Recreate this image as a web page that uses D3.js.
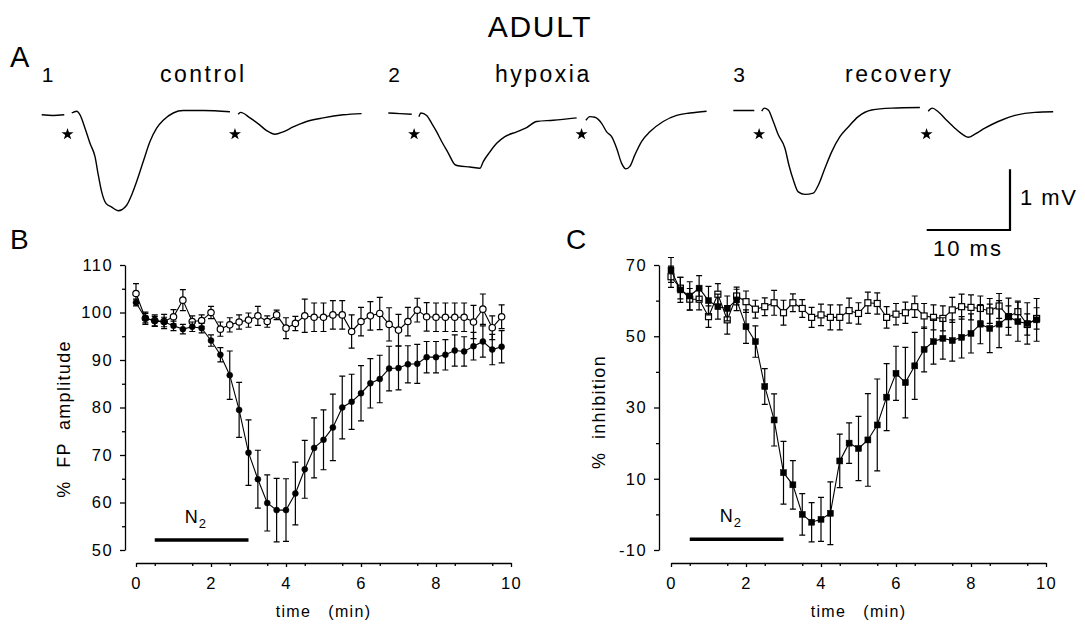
<!DOCTYPE html>
<html>
<head>
<meta charset="utf-8">
<script src="https://cdn.jsdelivr.net/npm/d3@7"></script>
<style>
body { margin: 0; background: #fff; }
svg { display: block; font-family: "Liberation Sans", Arial, sans-serif; }
</style>
</head>
<body>
<div id="chart"></div>
<script>
// sample times (min), one point every 15 s
const times = [0, 0.25, 0.5, 0.75, 1, 1.25, 1.5, 1.75, 2, 2.25, 2.5, 2.75, 3, 3.25, 3.5, 3.75,
  4, 4.25, 4.5, 4.75, 5, 5.25, 5.5, 5.75, 6, 6.25, 6.5, 6.75, 7, 7.25, 7.5, 7.75,
  8, 8.25, 8.5, 8.75, 9, 9.25, 9.5, 9.75];

// B: % FP amplitude
const ampHypoxia = [102.1, 98.8, 98.2, 98.0, 97.2, 96.5, 97.0, 96.7, 94.1, 91.1, 86.8, 79.5, 70.5, 64.9, 59.9, 58.4,
  58.4, 61.9, 67.0, 71.5, 73.2, 75.8, 80.0, 81.2, 83.0, 85.1, 86.0, 88.2, 88.3, 89.1, 89.2, 90.6,
  90.6, 91.1, 92.0, 91.8, 92.9, 93.9, 92.2, 92.8];
const ampHypoxiaErr = [0.7, 1.0, 1.0, 1.0, 1.0, 1.0, 1.0, 1.0, 1.2, 1.5, 5.1, 5.8, 6.9, 6.1, 5.9, 6.7,
  6.6, 6.6, 6.1, 6.3, 6.3, 7.0, 6.6, 5.8, 5.8, 5.2, 5.0, 4.7, 4.6, 3.9, 4.1, 3.3,
  3.3, 3.2, 3.3, 3.1, 2.9, 3.3, 3.2, 3.4];
const ampControl = [104.0, 98.8, 98.3, 98.1, 99.1, 102.6, 98.1, 98.3, 100.0, 96.5, 97.4, 98.0, 98.4, 99.3, 98.1, 99.5,
  96.7, 97.7, 99.3, 99.0, 99.0, 99.5, 99.5, 96.0, 98.1, 99.3, 99.8, 97.5, 96.3, 98.1, 100.5, 99.1,
  99.0, 99.0, 99.0, 99.0, 98.0, 100.7, 96.8, 99.1];
const ampControlErr = [2.1, 1.3, 1.2, 1.5, 1.5, 2.2, 1.2, 1.2, 1.3, 1.5, 1.5, 1.5, 1.5, 2.0, 1.2, 1.0,
  2.2, 1.5, 3.5, 3.0, 3.0, 3.0, 3.0, 3.5, 3.0, 3.0, 3.4, 3.5, 3.3, 3.0, 2.5, 3.0,
  3.0, 3.0, 3.0, 3.0, 3.5, 3.2, 2.5, 2.5];

// C: % inhibition
const inhHypoxia = [68.6, 63.0, 61.3, 63.5, 60.0, 58.3, 57.8, 60.2, 52.7, 48.5, 35.9, 26.5, 11.7, 8.3, 0.0, -2.2,
  -1.4, 0.3, 15.0, 20.0, 18.5, 20.9, 25.1, 32.9, 39.6, 37.0, 41.7, 46.3, 48.5, 49.4, 48.8, 49.7,
  50.8, 53.4, 52.2, 53.4, 55.5, 54.1, 53.6, 54.6];
const inhHypoxiaErr = [3.5, 3.5, 4.0, 3.5, 4.0, 3.5, 3.5, 3.0, 4.7, 4.4, 5.0, 7.3, 8.8, 6.8, 5.8, 5.5,
  6.2, 8.8, 7.5, 5.7, 9.0, 13.0, 12.9, 9.4, 7.6, 9.9, 9.4, 6.3, 6.3, 5.8, 5.8, 5.8,
  5.5, 5.5, 6.8, 6.6, 5.2, 5.5, 5.8, 6.0];
const inhControl = [66.7, 63.5, 60.4, 60.4, 55.5, 61.8, 54.6, 61.3, 59.7, 57.6, 58.3, 59.4, 56.6, 59.4, 57.8, 55.3,
  56.0, 55.3, 55.3, 57.2, 56.4, 59.4, 59.2, 55.3, 56.2, 56.6, 58.3, 55.7, 55.3, 55.0, 57.4, 58.3,
  58.1, 57.8, 57.1, 58.5, 55.5, 56.9, 53.3, 55.0];
const inhControlErr = [3.0, 3.0, 3.0, 3.0, 3.0, 3.0, 4.0, 2.5, 3.0, 2.5, 2.5, 3.5, 3.5, 2.5, 2.5, 2.8,
  3.0, 3.5, 3.5, 3.5, 3.0, 3.0, 3.0, 3.0, 3.0, 3.0, 3.0, 3.5, 3.5, 3.5, 3.5, 3.5,
  3.5, 3.5, 3.5, 3.5, 3.0, 3.0, 3.0, 3.0];

// N2 application (min)
const n2Window = [0.5, 3];

// A: field potential traces, [ms, mV] from trace start; null = stimulus artefact gap
const traceControl = [[0, -0.03], [1.36, -0.04], [2.71, -0.03], null,
  [3.60, 0.00], [4.20, 0.03], [4.60, -0.03], [5.20, -0.25], [5.80, -0.50], [6.40, -0.72], [6.79, -1.02],
  [7.20, -1.30], [7.72, -1.49], [8.40, -1.55], [9.19, -1.61], [10.20, -1.52], [10.80, -1.35], [11.40, -1.13],
  [12.19, -0.80], [13.00, -0.47], [13.80, -0.25], [14.59, -0.12], [15.79, 0.00], [16.99, 0.04], [19.39, 0.04],
  [22.60, 0.02], null,
  [23.59, -0.02], [23.88, 0.01], [25.00, -0.08], [26.20, -0.20], [27.00, -0.29], [28.00, -0.35], [28.99, -0.31],
  [30.19, -0.23], [31.80, -0.14], [33.79, -0.08], [36.19, -0.03], [38.40, -0.01]];
const traceHypoxia = [[0, 0.00], [1.40, -0.01], [2.81, -0.02], null,
  [3.68, -0.06], [3.92, 0.00], [4.61, -0.04], [5.21, -0.17], [5.81, -0.31], [6.41, -0.47], [7.20, -0.66],
  [8.00, -0.85], [8.40, -0.87], [9.80, -0.89], [11.00, -0.91], [11.40, -0.80], [12.20, -0.64], [13.01, -0.50],
  [14.00, -0.39], [15.41, -0.31], [16.61, -0.24], [17.81, -0.14], [19.80, -0.12], [22.61, -0.08], null,
  [23.72, -0.12], [24.20, -0.06], [24.80, -0.07], [25.61, -0.17], [26.21, -0.31], [26.81, -0.39], [27.41, -0.58],
  [28.01, -0.83], [28.52, -0.92], [29.00, -0.88], [29.60, -0.69], [30.40, -0.47], [31.40, -0.31], [33.00, -0.14],
  [34.61, -0.04], [36.20, 0.00], [38.21, 0.03]];
const traceRecovery = [[0, 0.04], [1.28, 0.04], [2.52, 0.04], null,
  [3.41, 0.03], [3.72, 0.08], [4.20, 0.05], [4.80, -0.14], [5.40, -0.36], [6.20, -0.58], [6.68, -0.86],
  [7.20, -1.10], [7.80, -1.30], [8.60, -1.34], [9.60, -1.32], [10.20, -1.19], [11.00, -0.91], [11.81, -0.64],
  [12.80, -0.39], [13.80, -0.23], [15.00, -0.06], [16.61, 0.05], [19.01, 0.08], [22.40, 0.09], null,
  [23.40, 0.03], [23.88, 0.08], [24.60, 0.02], [25.61, -0.12], [26.60, -0.25], [27.60, -0.36], [28.20, -0.40],
  [29.00, -0.35], [30.20, -0.25], [31.80, -0.14], [33.80, -0.04], [36.20, 0.01], [38.40, 0.02]];
const stimTimes = [3.1, 23.2];
const traceNumbers = ["1", "2", "3"];
const traceNames = ["control", "hypoxia", "recovery"];

const width = 1085, height = 627;
const svg = d3.select("#chart").append("svg")
  .attr("width", width)
  .attr("height", height);

// ---------- panel A ----------
svg.append("text").attr("x", 540).attr("y", 37).attr("text-anchor", "middle")
  .attr("font-size", 30).attr("letter-spacing", 1.7).text("ADULT");
svg.append("text").attr("x", 10).attr("y", 67).attr("font-size", 29).text("A");

const ms = d3.scaleLinear().domain([0, 10]).range([0, 83.3]);
const mv = d3.scaleLinear().domain([0, 1]).range([0, -60.7]);
const traceLine = d3.line()
  .defined(d => d !== null)
  .x(d => ms(d[0]))
  .y(d => mv(d[1]))
  .curve(d3.curveMonotoneX);

const traceX0 = [41.7, 388.3, 733.3];
const labelX = [160, 495, 845];
[traceControl, traceHypoxia, traceRecovery].forEach((tr, i) => {
  const g = svg.append("g").attr("transform", `translate(${traceX0[i]},113)`);
  g.append("path").datum(tr)
    .attr("fill", "none").attr("stroke", "#000").attr("stroke-width", 1.4)
    .attr("d", traceLine);
  g.selectAll(".star").data(stimTimes).join("path")
    .attr("transform", d => `translate(${ms(d)},${mv(-0.35)})`)
    .attr("d", d3.symbol(d3.symbolStar, 45));
  svg.append("text").attr("x", traceX0[i]).attr("y", 82).attr("font-size", 21).text(traceNumbers[i]);
  svg.append("text").attr("x", labelX[i]).attr("y", 82).attr("font-size", 23)
    .attr("letter-spacing", 2.5).text(traceNames[i]);
});

// scale bar: 10 ms, 1 mV
const sb = svg.append("g").attr("transform", "translate(1010,230)");
sb.append("path").attr("fill", "none").attr("stroke", "#000").attr("stroke-width", 2.2)
  .attr("d", `M${-ms(10)},0H0V${mv(1)}`);
svg.append("text").attr("x", 1020).attr("y", 205).attr("font-size", 22).attr("letter-spacing", 1.5).text("1 mV");
svg.append("text").attr("x", 968).attr("y", 256).attr("text-anchor", "middle")
  .attr("font-size", 22).attr("letter-spacing", 2).text("10 ms");

// ---------- panels B and C ----------
function drawPanel(cfg) {
  const g = svg.append("g");
  const x = d3.scaleLinear().domain([0, 10]).range([cfg.x0, cfg.x0 + 375]);
  const y = d3.scaleLinear().domain(cfg.yDomain).range([550, 265]);

  svg.append("text").attr("x", cfg.labelX).attr("y", 249).attr("font-size", 28).text(cfg.label);

  // y axis
  const ya = g.append("g").attr("transform", `translate(${cfg.axisX},0)`)
    .call(d3.axisLeft(y).tickValues(cfg.yTicks).tickSize(5).tickSizeOuter(0).tickPadding(7)
      .tickFormat(d => String(d)));
  g.append("g").attr("transform", `translate(${cfg.axisX},0)`)
    .call(d3.axisLeft(y).tickValues(cfg.yMinor).tickSize(3).tickFormat(""))
    .select(".domain").remove();

  // x axis, detached below the plot
  const xa = g.append("g").attr("transform", "translate(0,563)")
    .call(d3.axisBottom(x).tickValues([0, 2, 4, 6, 8, 10]).tickSize(4).tickSizeOuter(0).tickPadding(10));
  g.append("g").attr("transform", "translate(0,563)")
    .call(d3.axisBottom(x).tickValues(d3.range(1, 20, 2).map(d => d / 2)).tickSize(3).tickFormat(""))
    .select(".domain").remove();

  g.selectAll(".domain, .tick line").attr("stroke", "#000").attr("stroke-width", 1.3);
  [ya, xa].forEach(a => a.selectAll("text")
    .attr("font-family", "Liberation Sans, Arial, sans-serif")
    .attr("font-size", 16.5).attr("letter-spacing", 1.4).attr("fill", "#000"));

  // axis titles
  g.append("text")
    .attr("transform", `translate(${cfg.titleX},${cfg.titleY}) rotate(-90)`)
    .attr("text-anchor", "middle").attr("font-size", 18).attr("letter-spacing", 1.3)
    .style("white-space", "pre").text(cfg.yTitle);
  g.append("text").attr("x", x(5)).attr("y", 617).attr("text-anchor", "middle")
    .attr("font-size", 16).attr("letter-spacing", 1.3).style("white-space", "pre")
    .text("time   (min)");

  // N2 bar
  g.append("line")
    .attr("x1", x(n2Window[0])).attr("x2", x(n2Window[1]))
    .attr("y1", y(cfg.n2Level)).attr("y2", y(cfg.n2Level))
    .attr("stroke", "#000").attr("stroke-width", 3.6);
  const n2 = g.append("text").attr("x", x(1.3)).attr("y", y(cfg.n2Level) - 17).attr("font-size", 18);
  n2.append("tspan").text("N");
  n2.append("tspan").attr("dy", 5).attr("dx", 1).attr("font-size", 13).text("2");

  const line = d3.line().x((d, i) => x(times[i])).y(d => y(d));

  cfg.series.forEach(s => {
    const pts = times.map((t, i) => ({ t, v: s.values[i], e: s.err[i] }));
    g.append("path").datum(s.values)
      .attr("fill", "none").attr("stroke", "#000").attr("stroke-width", 1.1)
      .attr("d", line);
    const eb = g.append("g").attr("stroke", "#000").attr("stroke-width", 1.2);
    eb.selectAll("path").data(pts).join("path")
      .attr("fill", "none")
      .attr("d", d => {
        const cx = x(d.t), y1 = y(d.v + d.e), y2 = y(d.v - d.e);
        return `M${cx - 3},${y1}H${cx + 3}M${cx},${y1}V${y2}M${cx - 3},${y2}H${cx + 3}`;
      });
    const mk = g.append("g");
    if (s.shape === "circle") {
      mk.selectAll("circle").data(pts).join("circle")
        .attr("cx", d => x(d.t)).attr("cy", d => y(d.v))
        .attr("r", s.filled ? 3 : 3.2)
        .attr("fill", s.filled ? "#000" : "#fff")
        .attr("stroke", "#000").attr("stroke-width", s.filled ? 0.5 : 1.2);
    } else {
      mk.selectAll("rect").data(pts).join("rect")
        .attr("x", d => x(d.t) - 3).attr("y", d => y(d.v) - 3)
        .attr("width", 6).attr("height", 6)
        .attr("fill", s.filled ? "#000" : "#fff")
        .attr("stroke", "#000").attr("stroke-width", s.filled ? 0.5 : 1.2);
    }
  });
}

drawPanel({
  label: "B", labelX: 10, x0: 136, axisX: 125, titleX: 70, titleY: 419,
  yDomain: [50, 110], yTicks: [50, 60, 70, 80, 90, 100, 110],
  yMinor: [55, 65, 75, 85, 95, 105],
  yTitle: "%  FP  amplitude", n2Level: 52.1,
  series: [
    { values: ampControl, err: ampControlErr, shape: "circle", filled: false },
    { values: ampHypoxia, err: ampHypoxiaErr, shape: "circle", filled: true }
  ]
});

drawPanel({
  label: "C", labelX: 566, x0: 671, axisX: 659, titleX: 605, titleY: 412,
  yDomain: [-10, 70], yTicks: [-10, 10, 30, 50, 70],
  yMinor: [0, 20, 40, 60],
  yTitle: "%  inhibition", n2Level: -7.0,
  series: [
    { values: inhControl, err: inhControlErr, shape: "square", filled: false },
    { values: inhHypoxia, err: inhHypoxiaErr, shape: "square", filled: true }
  ]
});
</script>
</body>
</html>
